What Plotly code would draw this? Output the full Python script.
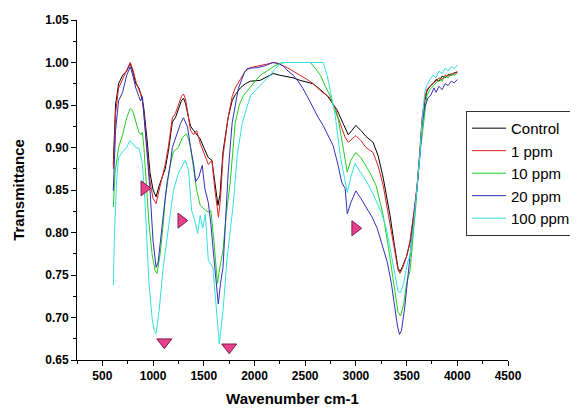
import plotly.graph_objects as go

# ---------------- data ----------------
ctrl_w = [608, 630, 660, 700, 740, 775, 800, 830, 860, 880, 895, 910, 940, 970, 1000, 1030, 1060, 1090, 1120, 1150,
          1190, 1220, 1250, 1280, 1300, 1320, 1350, 1370, 1400, 1430, 1465, 1500, 1545, 1580, 1610, 1640, 1660, 1690,
          1740, 1780, 1810, 1860, 1910, 1960, 2056, 2120, 2185, 2250, 2300, 2380, 2450, 2520, 2580, 2650, 2717, 2770,
          2815, 2875, 2905, 2925, 2960, 3000, 3050, 3100, 3170, 3220, 3270, 3337, 3380, 3416, 3435, 3460, 3500, 3534,
          3570, 3603, 3630, 3652, 3680, 3700, 3730, 3760, 3790, 3820, 3850, 3880, 3910, 3940, 3970, 4000]
ctrl_t = [0.88, 0.95, 0.975, 0.985, 0.99, 0.999, 0.99, 0.975, 0.97, 0.963, 0.955, 0.945, 0.91, 0.87, 0.85, 0.842,
          0.855, 0.865, 0.875, 0.895, 0.93, 0.935, 0.945, 0.955, 0.958, 0.952, 0.935, 0.925, 0.92, 0.915, 0.91, 0.9,
          0.888, 0.885, 0.86, 0.832, 0.845, 0.895, 0.935, 0.955, 0.962, 0.97, 0.975, 0.978, 0.979, 0.983, 0.987, 0.985,
          0.984, 0.982, 0.979, 0.977, 0.975, 0.968, 0.961, 0.952, 0.944, 0.928, 0.92, 0.915, 0.92, 0.926, 0.92, 0.913,
          0.906, 0.89, 0.864, 0.82, 0.785, 0.758, 0.754, 0.76, 0.772, 0.788, 0.82, 0.852, 0.89, 0.929, 0.955, 0.966,
          0.972, 0.975, 0.98, 0.978, 0.984, 0.982, 0.986, 0.985, 0.988, 0.988]

p1_w = [608, 630, 660, 700, 740, 775, 800, 830, 860, 880, 895, 910, 940, 970, 1000, 1030, 1060, 1090, 1120, 1150,
        1190, 1220, 1250, 1280, 1300, 1320, 1350, 1370, 1400, 1430, 1465, 1500, 1545, 1580, 1610, 1645, 1665, 1690,
        1740, 1780, 1810, 1860, 1910, 1960, 2056, 2120, 2185, 2250, 2322, 2380, 2450, 2520, 2580, 2650, 2746, 2800,
        2825, 2860, 2894, 2925, 2960, 3000, 3050, 3100, 3170, 3220, 3270, 3337, 3380, 3416, 3435, 3460, 3500, 3534,
        3570, 3603, 3630, 3652, 3680, 3700, 3730, 3760, 3790, 3820, 3850, 3880, 3910, 3940, 3970, 4000]
p1_t = [0.875, 0.94, 0.97, 0.98, 0.99, 1.0, 0.992, 0.978, 0.968, 0.962, 0.955, 0.94, 0.9, 0.86, 0.84, 0.834, 0.85,
        0.865, 0.88, 0.9, 0.935, 0.94, 0.95, 0.96, 0.963, 0.957, 0.935, 0.92, 0.915, 0.92, 0.905, 0.895, 0.88, 0.885,
        0.85, 0.818, 0.84, 0.89, 0.935, 0.96, 0.97, 0.98, 0.99, 0.994, 0.996, 0.998, 1.0, 0.998, 0.994, 0.99, 0.985,
        0.98, 0.975, 0.967, 0.958, 0.945, 0.935, 0.922, 0.912, 0.906, 0.91, 0.914, 0.908, 0.9, 0.894, 0.878, 0.855,
        0.81, 0.78, 0.756, 0.752, 0.758, 0.772, 0.79, 0.822, 0.855, 0.895, 0.935, 0.958, 0.968, 0.972, 0.976, 0.978,
        0.982, 0.98, 0.985, 0.984, 0.987, 0.986, 0.99]

p10_w = [608, 625, 660, 700, 740, 775, 800, 830, 860, 880, 895, 910, 930, 960, 990, 1020, 1040, 1070, 1100, 1120,
         1150, 1170, 1200, 1250, 1290, 1330, 1350, 1370, 1400, 1430, 1465, 1515, 1545, 1570, 1600, 1635, 1660, 1690,
         1720, 1761, 1810, 1850, 1890, 1990, 2056, 2125, 2185, 2250, 2300, 2400, 2550, 2600, 2650, 2700, 2746, 2790,
         2825, 2860, 2890, 2915, 2950, 3000, 3050, 3100, 3140, 3200, 3270, 3330, 3380, 3416, 3440, 3470, 3500, 3534,
         3560, 3590, 3620, 3650, 3680, 3700, 3730, 3760, 3790, 3820, 3850, 3880, 3910, 3940, 3970, 4000]
p10_t = [0.83, 0.87, 0.9, 0.915, 0.935, 0.946, 0.943, 0.93, 0.918, 0.915, 0.918, 0.9, 0.86, 0.81, 0.775, 0.755,
         0.752, 0.775, 0.81, 0.84, 0.865, 0.88, 0.895, 0.9, 0.912, 0.916, 0.91, 0.9, 0.875, 0.85, 0.832, 0.826, 0.824,
         0.826, 0.79, 0.74, 0.76, 0.779, 0.82, 0.859, 0.929, 0.95, 0.961, 0.976, 0.985, 0.99, 0.995, 0.999, 1.0, 1.0,
         1.0, 0.993, 0.985, 0.972, 0.961, 0.945, 0.934, 0.91, 0.89, 0.871, 0.885, 0.894, 0.888, 0.878, 0.87, 0.855,
         0.82, 0.775, 0.735, 0.706, 0.702, 0.715, 0.74, 0.755, 0.79, 0.83, 0.88, 0.91, 0.945, 0.961, 0.968, 0.972,
         0.976, 0.98, 0.978, 0.984, 0.982, 0.986, 0.985, 0.988]

p20_w = [608, 630, 660, 700, 740, 775, 800, 830, 860, 875, 895, 910, 940, 970, 1000, 1030, 1050, 1080, 1110, 1140,
         1170, 1190, 1230, 1270, 1300, 1320, 1340, 1370, 1400, 1420, 1450, 1485, 1510, 1545, 1570, 1600, 1643, 1665,
         1690, 1741, 1780, 1840, 1900, 1930, 2027, 2100, 2185, 2230, 2283, 2330, 2382, 2430, 2480, 2530, 2580, 2630,
         2677, 2730, 2776, 2825, 2860, 2894, 2915, 2950, 3000, 3050, 3110, 3160, 3210, 3270, 3310, 3350, 3380, 3410,
         3430, 3450, 3480, 3510, 3534, 3570, 3603, 3630, 3652, 3680, 3710, 3740, 3770, 3790, 3820, 3850, 3880, 3910,
         3940, 3970, 4000]
p20_t = [0.849, 0.92, 0.955, 0.965, 0.985, 0.995, 0.985, 0.97, 0.96, 0.955, 0.96, 0.94, 0.9, 0.85, 0.79, 0.759,
         0.765, 0.8, 0.83, 0.86, 0.88, 0.9, 0.915, 0.928, 0.935, 0.93, 0.924, 0.9, 0.88, 0.86, 0.865, 0.879, 0.852,
         0.835, 0.81, 0.77, 0.716, 0.74, 0.759, 0.871, 0.929, 0.969, 0.988, 0.993, 0.994, 0.996, 1.0, 0.999, 0.996,
         0.99, 0.985, 0.978, 0.969, 0.958, 0.946, 0.935, 0.926, 0.914, 0.902, 0.879, 0.859, 0.852, 0.822, 0.835,
         0.849, 0.84, 0.828, 0.818, 0.805, 0.78, 0.765, 0.74, 0.715, 0.69, 0.68, 0.685, 0.71, 0.745, 0.773, 0.81,
         0.852, 0.89, 0.925, 0.948, 0.958, 0.962, 0.97, 0.965, 0.972, 0.968, 0.975, 0.973, 0.978, 0.976, 0.98]

p100_w = [608, 620, 640, 660, 700, 740, 770, 800, 830, 860, 880, 895, 920, 960, 990, 1010, 1030, 1060, 1100, 1150,
          1180, 1200, 1250, 1318, 1350, 1380, 1410, 1440, 1465, 1490, 1515, 1545, 1590, 1620, 1653, 1690, 1730, 1790,
          1830, 1880, 1960, 2056, 2155, 2200, 2254, 2300, 2677, 2717, 2760, 2796, 2845, 2880, 2915, 2950, 2990, 3050,
          3110, 3170, 3250, 3300, 3337, 3380, 3416, 3440, 3470, 3510, 3534, 3570, 3603, 3630, 3652, 3680, 3700, 3730,
          3760, 3790, 3820, 3850, 3880, 3910, 3940, 3970, 4000]
p100_t = [0.738, 0.8, 0.861, 0.888, 0.895, 0.9, 0.908, 0.905, 0.9, 0.899, 0.89, 0.881, 0.838, 0.74, 0.7, 0.685,
          0.681, 0.708, 0.759, 0.806, 0.829, 0.849, 0.87, 0.885, 0.873, 0.826, 0.815, 0.799, 0.82, 0.805, 0.822, 0.767,
          0.759, 0.72, 0.669, 0.708, 0.77, 0.832, 0.891, 0.929, 0.961, 0.973, 0.985, 0.992, 0.999, 1.0, 1.0, 0.985,
          0.96, 0.938, 0.891, 0.871, 0.847, 0.865, 0.881, 0.87, 0.859, 0.845, 0.824, 0.805, 0.781, 0.755, 0.731, 0.729,
          0.74, 0.765, 0.773, 0.81, 0.852, 0.89, 0.929, 0.965, 0.973, 0.98, 0.985, 0.982, 0.99, 0.987, 0.993, 0.99,
          0.995, 0.993, 0.997]

series_names = ["Control", "1 ppm", "10 ppm", "20 ppm", "100 ppm"]
series_colors = ["#000000", "#dd2222", "#22cc22", "#3030bb", "#33e0e0"]

# arrow-head annotations (triangle markers)
mark_w = [914, 1278, 1111, 1751, 2993]
mark_t = [0.852, 0.814, 0.671, 0.665, 0.805]
mark_sym = ["triangle-right", "triangle-right", "triangle-down", "triangle-down", "triangle-right"]

# ---------------- figure ----------------
fig = go.Figure()
all_w = [ctrl_w, p1_w, p10_w, p20_w, p100_w]
all_t = [ctrl_t, p1_t, p10_t, p20_t, p100_t]
for name, col, w, t in zip(series_names, series_colors, all_w, all_t):
    fig.add_trace(go.Scatter(x=w, y=t, mode="lines", name=name,
                             line=dict(color=col, width=1)))

fig.add_trace(go.Scatter(x=mark_w, y=mark_t, mode="markers", showlegend=False,
                         marker=dict(symbol=mark_sym, size=13, color="#e8408c",
                                     line=dict(color="#7a1f48", width=1))))

FONT = "Liberation Sans, Arial, sans-serif"
# page body adds an 8px margin, so the figure is 570x402 and offset by 8px
fig.update_layout(
    width=570, height=402,
    margin=dict(l=69, r=70, t=12, b=50, autoexpand=False),
    paper_bgcolor="white", plot_bgcolor="white",
    font=dict(family=FONT, color="black"),
    showlegend=True,
    legend=dict(xref="container", yref="container", x=0.8035, y=0.744, xanchor="left", yanchor="top",
                bgcolor="white", bordercolor="#333333", borderwidth=1,
                font=dict(family=FONT, size=15, color="black"),
                tracegroupgap=0, itemwidth=34),
    xaxis=dict(range=[250, 4500], dtick=500, tick0=500, showgrid=False, zeroline=False,
               showline=True, linecolor="black", linewidth=1, automargin=True,
               ticks="outside", ticklen=5, tickcolor="black",
               minor=dict(dtick=250, tick0=250, ticks="outside", ticklen=3, tickcolor="black"),
               tickfont=dict(family=FONT, size=12, color="black", weight="bold"),
               title=dict(text="<b>Wavenumber cm-1</b>", font=dict(family=FONT, size=15, color="black"), standoff=11)),
    yaxis=dict(range=[0.65, 1.05], dtick=0.05, tick0=0.65, tickformat=".2f", showgrid=False, zeroline=False,
               showline=True, linecolor="black", linewidth=1, automargin=True,
               ticks="outside", ticklen=5, tickcolor="black",
               minor=dict(dtick=0.025, ticks="outside", ticklen=3, tickcolor="black"),
               tickfont=dict(family=FONT, size=12, color="black", weight="bold"),
               title=dict(text="<b>Transmittance</b>", font=dict(family=FONT, size=15, color="black"), standoff=16)),
)

fig.write_html("out.html")
